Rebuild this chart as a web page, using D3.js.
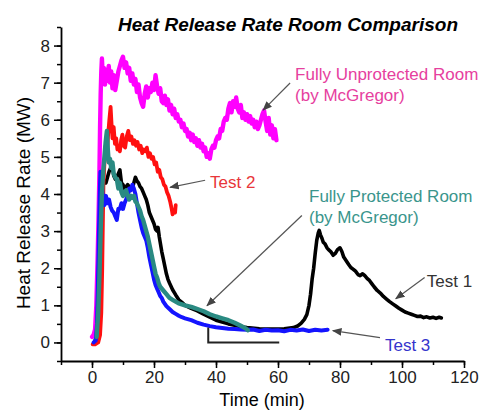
<!DOCTYPE html>
<html>
<head>
<meta charset="utf-8">
<script src="https://d3js.org/d3.v7.min.js"></script>
<style>
  body { margin: 0; background: #fff; }
  svg text { font-family: "Liberation Sans", Arial, sans-serif; }
</style>
</head>
<body>
<div id="chart"></div>
<script>

// x ticks (min) and y ticks (MW)
const xTicks = [0, 20, 40, 60, 80, 100, 120];
const yTicks = [0, 1, 2, 3, 4, 5, 6, 7, 8];

// Fully unprotected room (by McGregor) [time, HRR]
const unprotected = [
  [0,0.15],[0.5,0.2],[1.0,0.35],[1.4,1.0],[1.8,2.2],[2.1,3.3],[2.4,4.6],[2.6,5.8],[2.8,6.7],[3.0,7.3],
  [3.2,7.65],[3.5,7.1],[3.8,7.4],[4.2,6.95],[4.6,7.35],[5.0,7.05],[5.4,7.45],[5.8,7.0],[6.2,7.3],[6.6,6.85],
  [7.0,7.2],[7.5,6.8],[8.0,7.05],[8.5,7.3],[9.0,7.45],[9.5,7.6],[10.0,7.7],[10.5,7.4],[11.0,7.55],[11.5,7.25],
  [12.0,7.4],[12.5,7.05],[13.0,7.25],[13.5,6.95],[14.0,7.1],[14.5,6.75],[15.0,6.95],[15.5,6.6],[16.0,6.45],[16.5,6.35],
  [17.0,6.7],[17.5,6.9],[18.0,6.6],[18.5,6.85],[19.0,6.75],[19.5,7.0],[20.0,6.8],[20.5,7.2],[21.0,6.9],[21.5,6.7],
  [22.0,6.85],[22.5,6.5],[23.0,6.45],[23.5,6.65],[24.0,6.4],[24.5,6.55],[25.0,6.25],[25.5,6.4],[26.0,6.15],[26.5,6.3],
  [27.0,6.05],[27.5,6.15],[28.0,5.95],[28.5,6.0],[29.0,5.8],[29.5,5.9],[30.0,5.7],[30.5,5.75],[31.0,5.55],[31.5,5.65],
  [32.0,5.45],[32.5,5.6],[33.0,5.4],[33.5,5.5],[34.0,5.3],[34.5,5.45],[35.0,5.25],[35.5,5.35],[36.0,5.15],[36.5,5.25],
  [37.0,5.0],[37.5,5.1],[38.0,4.95],[38.5,5.2],[39.0,5.3],[39.5,5.25],[40.0,5.45],[40.5,5.55],[41.0,5.5],[41.5,5.75],
  [42.0,5.7],[42.5,5.95],[43.0,6.05],[43.5,6.0],[44.0,6.3],[44.5,6.45],[45.0,6.2],[45.5,6.5],[46.0,6.35],[46.5,6.6],
  [47.0,6.3],[47.5,6.2],[48.0,6.4],[48.5,6.05],[49.0,6.2],[49.5,6.0],[50.0,6.15],[50.5,5.95],[51.0,6.1],[51.5,5.9],
  [52.0,6.0],[52.5,5.8],[53.0,5.95],[53.5,5.75],[54.0,5.85],[54.5,6.0],[55.0,6.15],[55.5,6.25],[56.0,5.95],[56.5,5.7],
  [57.0,6.05],[57.5,5.6],[58.0,5.85],[58.5,5.5],[59.0,5.75],[59.5,5.45]
];

// Test 2
const test2 = [
  [0.2,-0.05],[1.0,-0.05],[2.0,0.0],[2.6,0.2],[3.0,0.8],[3.3,2.0],[3.5,3.2],[3.7,4.3],[4.0,4.8],[4.4,5.3],
  [4.8,5.0],[5.2,5.6],[5.6,6.0],[6.0,6.35],[6.3,5.9],[6.6,5.5],[7.0,5.8],[7.4,5.35],[7.8,5.5],[8.2,5.2],
  [8.6,5.3],[9.0,5.15],[9.4,5.45],[9.8,5.6],[10.2,5.3],[10.7,5.25],[11.2,5.55],[11.7,5.7],[12.2,5.45],[12.7,5.55],
  [13.2,5.35],[13.7,5.45],[14.2,5.3],[14.7,5.4],[15.2,5.2],[15.7,5.3],[16.2,5.1],[16.7,5.2],[17.2,5.15],[17.7,5.25],
  [18.2,5.0],[18.7,5.1],[19.2,4.95],[19.7,5.0],[20.2,4.8],[20.7,4.85],[21.2,4.6],[21.7,4.65],[22.2,4.45],[22.7,4.4],
  [23.2,4.25],[23.7,4.2],[24.2,4.05],[24.7,3.95],[25.2,3.8],[25.7,3.6],[26.0,3.45],[26.4,3.55],[26.8,3.5],[27.0,3.7]
];

// Test 1
const test1 = [
  [1.0,0.05],[1.5,0.2],[1.9,1.0],[2.2,2.3],[2.5,3.6],[2.7,4.5],[3.0,4.4],[3.5,4.2],[4.0,4.35],[4.5,4.3],
  [5.0,4.45],[5.5,4.6],[6.0,4.7],[6.5,4.8],[7.0,4.5],[7.5,4.4],[8.0,4.45],[8.5,4.55],[9.0,4.65],[9.5,4.3],
  [10.0,4.25],[10.5,4.15],[11.0,4.2],[11.5,4.25],[12.0,4.2],[12.5,4.1],[13.0,4.15],[13.5,4.3],[14.0,4.45],[14.5,4.35],
  [15.0,4.3],[15.5,4.2],[16.0,4.15],[16.5,4.05],[17.0,3.95],[17.5,3.85],[18.0,3.7],[18.5,3.5],[19.0,3.4],[19.5,3.3],
  [20.0,3.2],[20.5,3.05],[21.0,3.0],[21.3,3.1],[21.7,2.85],[22.0,2.7],[22.5,2.45],[23.0,2.25],[23.5,2.05],[24.0,1.85],
  [24.5,1.7],[25.0,1.6],[26.0,1.42],[27.0,1.28],[28.0,1.15],[29.0,1.08],[30.0,1.0],[32.0,0.92],[34.0,0.85],[36.0,0.76],
  [38.0,0.68],[40.0,0.6],[42.0,0.55],[44.0,0.5],[46.0,0.46],[48.0,0.42],[50.0,0.4],[54.0,0.37],[58.0,0.36],[62.0,0.37],
  [65.0,0.4],[66.5,0.45],[67.5,0.52],[68.5,0.62],[69.3,0.75],[70.0,1.0],[70.5,1.3],[71.0,1.7],[71.5,2.0],[72.0,2.4],
  [72.5,2.75],[73.0,2.95],[73.3,3.02],[73.7,2.9],[74.2,2.8],[74.6,2.7],[75.2,2.65],[75.8,2.55],[76.3,2.5],[77.0,2.45],
  [77.8,2.35],[78.5,2.4],[79.2,2.5],[80.0,2.55],[80.6,2.45],[81.2,2.3],[82.0,2.2],[82.8,2.1],[83.5,2.02],[84.3,1.97],
  [85.0,1.92],[85.8,1.83],[86.5,1.8],[87.3,1.85],[88.0,1.8],[88.8,1.72],[89.5,1.67],[90.3,1.58],[91.0,1.5],[92.0,1.4],
  [93.0,1.33],[94.0,1.24],[95.0,1.17],[96.0,1.1],[97.0,1.04],[98.0,0.98],[99.0,0.92],[100.0,0.87],[101.0,0.82],[102.0,0.79],
  [103.0,0.76],[104.0,0.73],[105.0,0.7],[106.0,0.71],[107.0,0.67],[108.0,0.69],[109.0,0.66],[110.0,0.68],[111.0,0.65],[112.0,0.68],
  [112.7,0.66]
];

// Test 3
const test3 = [
  [0.5,0.0],[1.2,0.05],[1.6,0.5],[1.9,1.5],[2.2,2.8],[2.5,4.0],[2.7,4.6],[3.0,4.4],[3.3,4.1],[3.6,3.85],
  [4.0,3.7],[4.5,3.95],[5.0,3.75],[5.5,3.85],[6.0,3.65],[6.5,3.55],[7.0,3.5],[7.5,3.4],[8.0,3.3],[8.5,3.6],
  [9.0,3.6],[9.5,3.75],[10.0,3.6],[10.5,3.75],[11.0,3.85],[11.5,3.95],[12.0,4.15],[12.5,4.1],[13.0,4.25],[13.5,4.15],
  [14.0,4.0],[14.5,3.75],[15.0,3.5],[15.5,3.3],[16.0,3.1],[16.5,2.95],[17.0,2.85],[17.5,2.75],[18.0,2.55],[18.5,2.3],
  [19.0,2.1],[19.5,1.9],[20.0,1.7],[20.5,1.55],[21.0,1.45],[21.5,1.35],[22.0,1.25],[22.5,1.2],[23.0,1.1],[24.0,0.98],
  [25.0,0.9],[26.0,0.82],[27.0,0.77],[28.0,0.72],[29.0,0.68],[30.0,0.65],[32.0,0.6],[34.0,0.53],[36.0,0.48],[38.0,0.44],
  [40.0,0.41],[42.0,0.39],[44.0,0.37],[46.0,0.36],[48.0,0.35],[50.0,0.34],[52.0,0.35],[54.0,0.31],[56.0,0.34],[58.0,0.32],
  [60.0,0.33],[62.0,0.3],[64.0,0.34],[66.0,0.32],[68.0,0.35],[70.0,0.31],[72.0,0.34],[74.0,0.32],[76.0,0.34]
];

// Fully protected room (by McGregor)
const protectedRoom = [
  [1.5,0.15],[2.0,0.8],[2.4,1.8],[2.8,3.0],[3.2,4.0],[3.6,4.6],[4.0,5.0],[4.4,5.4],[4.8,5.7],[5.1,5.2],
  [5.4,4.85],[5.8,4.95],[6.2,4.7],[6.6,4.85],[7.0,4.55],[7.5,4.45],[8.0,4.4],[8.5,4.15],[9.0,4.3],[9.5,4.05],
  [10.0,3.95],[10.5,4.05],[11.0,4.1],[11.5,3.95],[12.0,3.85],[12.5,3.95],[13.0,3.9],[13.5,3.95],[14.0,3.8],[14.5,3.75],
  [15.0,3.65],[15.5,3.55],[16.0,3.4],[16.5,3.3],[17.0,3.15],[17.5,3.0],[18.0,2.85],[18.5,2.65],[19.0,2.45],[19.5,2.25],
  [20.0,2.05],[20.5,1.85],[21.0,1.75],[21.5,1.6],[22.0,1.5],[23.0,1.4],[24.0,1.3],[25.0,1.2],[26.0,1.15],[27.0,1.1],
  [28.0,1.05],[30.0,1.0],[32.0,0.96],[34.0,0.9],[36.0,0.84],[38.0,0.76],[40.0,0.7],[42.0,0.65],[44.0,0.6],[46.0,0.53],
  [48.0,0.45],[49.5,0.38],[50.3,0.33]
];

// bracket under the tail
const bracket = [[37.5,0.4],[37.5,0],[60.4,0]];

// labels: text lines, anchor [t, v], arrow from/to [t, v]
const labels = [
  { lines: ["Fully Unprotected Room", "(by McGregor)"], color: "#e6409e", at: [65.5, 7.07], from: [63.9, 6.99], to: [55.2, 6.26] },
  { lines: ["Test 2"], color: "#e8363a", at: [38.1, 4.15], from: [36.5, 4.37], to: [25.2, 4.18] },
  { lines: ["Fully Protected Room", "(by McGregor)"], color: "#3a958c", at: [70.0, 3.78], from: [67.7, 3.42], to: [37.1, 0.99] },
  { lines: ["Test 1"], color: "#333333", at: [108.0, 1.5], from: [107.3, 1.75], to: [98.0, 1.18] },
  { lines: ["Test 3"], color: "#3434cc", at: [94.5, -0.22], from: [92.9, 0.13], to: [77.7, 0.32] }
];

const W = 481, H = 410;
const margin = { top: 27, right: 17, bottom: 49, left: 61 };

const svg = d3.select("#chart").append("svg")
  .attr("width", W).attr("height", H);

const x = d3.scaleLinear().domain([-10, 120]).range([margin.left, W - margin.right]);
const y = d3.scaleLinear().domain([-0.5, 8.5]).range([H - margin.bottom, margin.top]);

svg.append("defs").append("marker")
  .attr("id", "arr")
  .attr("viewBox", "0 0 10 10")
  .attr("refX", 9).attr("refY", 5)
  .attr("markerWidth", 8).attr("markerHeight", 8)
  .attr("orient", "auto")
  .append("path").attr("d", "M0,1 L10,5 L0,9 z").attr("fill", "#444");

// title
svg.append("text")
  .attr("x", 288).attr("y", 31)
  .attr("text-anchor", "middle")
  .style("font-size", "19px").style("font-weight", "bold").style("font-style", "italic")
  .text("Heat Release Rate Room Comparison");

// minor ticks
svg.append("g")
  .attr("transform", `translate(0,${H - margin.bottom})`)
  .call(d3.axisBottom(x).tickValues(d3.range(-10, 121, 10)).tickSize(4).tickFormat(""))
  .call(g => g.select(".domain").remove())
  .selectAll("line").attr("stroke-width", 1.5);
svg.append("g")
  .attr("transform", `translate(${margin.left},0)`)
  .call(d3.axisLeft(y).tickValues(d3.range(-0.5, 8.6, 0.5)).tickSize(4).tickFormat(""))
  .call(g => g.select(".domain").remove())
  .selectAll("line").attr("stroke-width", 1.5);

// main axes
const xAxis = svg.append("g")
  .attr("transform", `translate(0,${H - margin.bottom})`)
  .call(d3.axisBottom(x).tickValues(xTicks).tickSize(7).tickSizeOuter(0).tickPadding(3));
const yAxis = svg.append("g")
  .attr("transform", `translate(${margin.left},0)`)
  .call(d3.axisLeft(y).tickValues(yTicks).tickSize(7).tickSizeOuter(0).tickPadding(4));

[xAxis, yAxis].forEach(a => {
  a.select(".domain").attr("stroke-width", 1.8);
  a.selectAll(".tick line").attr("stroke-width", 1.5);
  a.selectAll("text").style("font-size", "17px").attr("fill", "#222")
    .style("font-family", "'Liberation Sans', Arial, sans-serif");
});

svg.append("text")
  .attr("x", 262).attr("y", 406)
  .attr("text-anchor", "middle")
  .style("font-size", "18px")
  .text("Time (min)");

svg.append("text")
  .attr("transform", "translate(30,203) rotate(-90)")
  .attr("text-anchor", "middle")
  .style("font-size", "19px")
  .text("Heat Release Rate (MW)");

// curves
const line = d3.line().x(d => x(d[0])).y(d => y(d[1]));
const series = [
  { data: test1, color: "#000000", w: 3.6 },
  { data: test2, color: "#ff1010", w: 3.8 },
  { data: unprotected, color: "#ff00ff", w: 4.4 },
  { data: test3, color: "#1414ff", w: 4 },
  { data: protectedRoom, color: "#2a8a82", w: 4.4 }
];
svg.append("g").selectAll("path")
  .data(series).enter().append("path")
  .attr("d", d => line(d.data))
  .attr("fill", "none")
  .attr("stroke", d => d.color)
  .attr("stroke-width", d => d.w)
  .attr("stroke-linejoin", "round")
  .attr("stroke-linecap", "round");

svg.append("path")
  .attr("d", line(bracket))
  .attr("fill", "none")
  .attr("stroke", "#222")
  .attr("stroke-width", 2);

// annotations
const ann = svg.append("g");
labels.forEach(l => {
  ann.append("line")
    .attr("x1", x(l.from[0])).attr("y1", y(l.from[1]))
    .attr("x2", x(l.to[0])).attr("y2", y(l.to[1]))
    .attr("stroke", "#555").attr("stroke-width", 1.2)
    .attr("marker-end", "url(#arr)");
  l.lines.forEach((s, i) => {
    ann.append("text")
      .attr("x", x(l.at[0])).attr("y", y(l.at[1]) + i * 21)
      .attr("fill", l.color)
      .style("font-size", "17px")
      .text(s);
  });
});

</script>
</body>
</html>
